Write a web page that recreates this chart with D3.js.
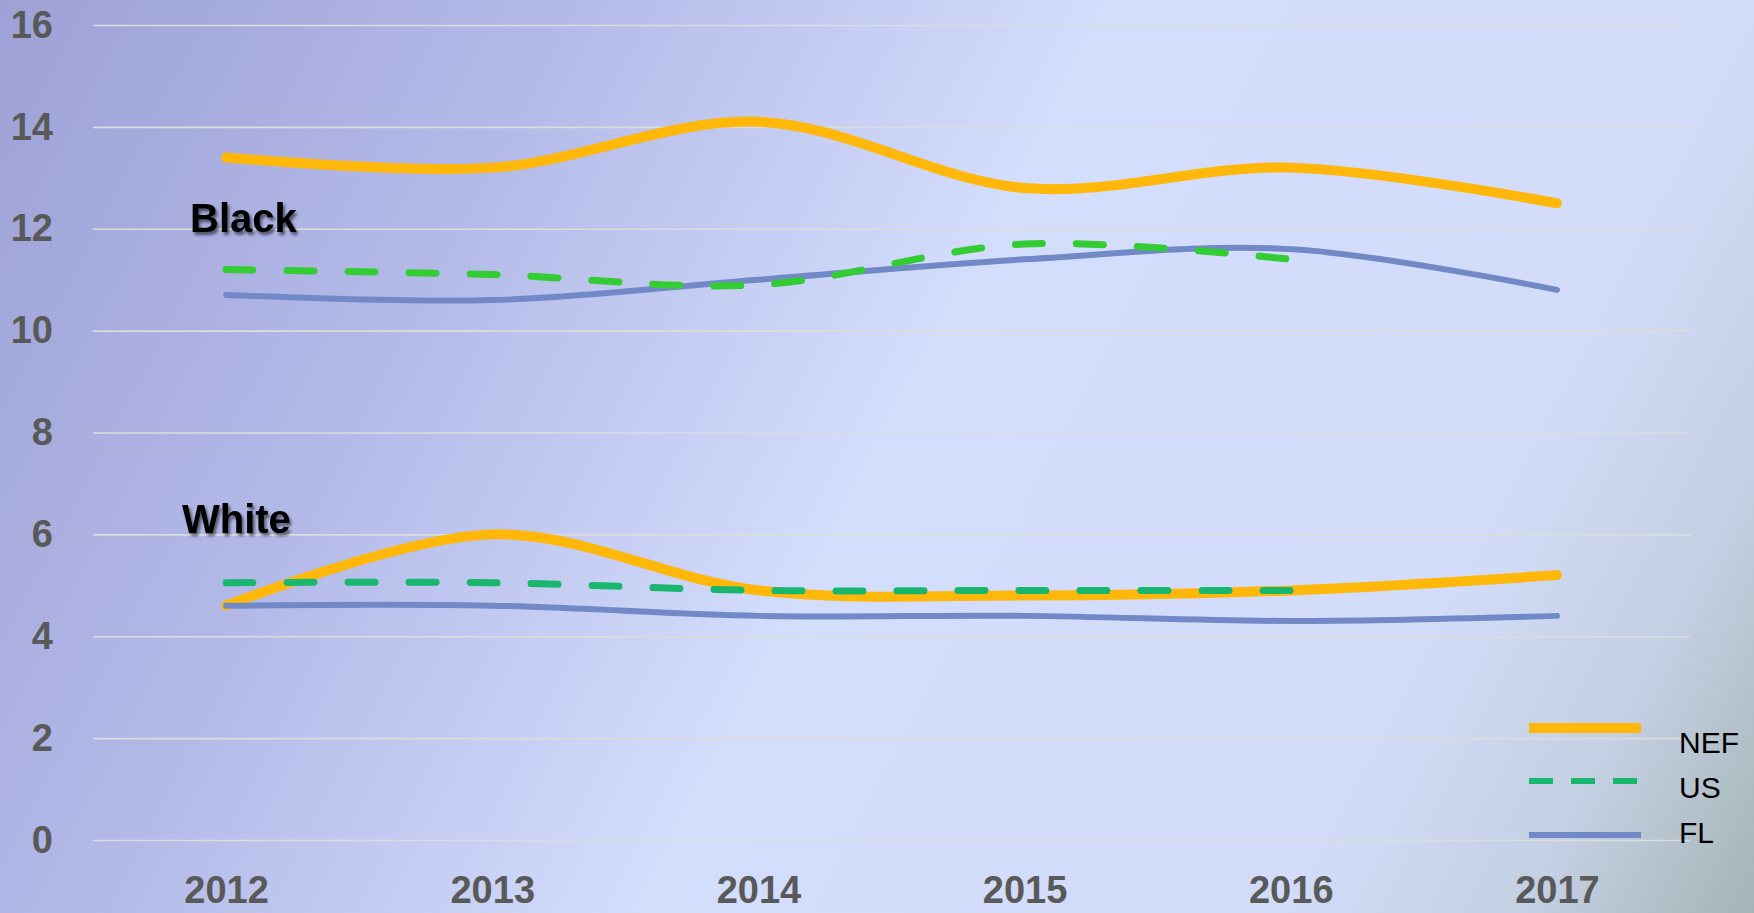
<!DOCTYPE html>
<html>
<head>
<meta charset="utf-8">
<script src="https://cdn.jsdelivr.net/npm/d3@7"></script>
<style>
  html, body { margin: 0; padding: 0; }
  body { width: 1754px; height: 913px; overflow: hidden; }
  svg { display: block; }
</style>
</head>
<body>
<svg id="chart" width="1754" height="913"></svg>
<script>
// ---- data ----
const years = ["2012", "2013", "2014", "2015", "2016", "2017"];
const yTicks = [0, 2, 4, 6, 8, 10, 12, 14, 16];

const blackNEF = [13.4, 13.2, 14.1, 12.8, 13.2, 12.5];
const blackUS  = [11.2, 11.1, 10.9, 11.7, 11.4, null];
const blackFL  = [10.7, 10.6, 11.0, 11.4, 11.6, 10.8];

const whiteNEF = [4.6, 6.0, 4.9, 4.8, 4.9, 5.2];
const whiteUS  = [5.05, 5.05, 4.9, 4.9, 4.9, null];
const whiteFL  = [4.6, 4.6, 4.4, 4.4, 4.3, 4.4];

const groupLabels = ["Black", "White"];
const legendNames = ["NEF", "US", "FL"];

// ---- styles ----
const C_NEF = "#FFB80A";
const C_US_BLACK = "#33CC33";
const C_US_WHITE = "#19B66E";
const C_FL = "#7289C8";

const W = 1754, H = 913;
const svg = d3.select("#chart");
const defs = svg.append("defs");

const grad = defs.append("linearGradient")
  .attr("id", "bg").attr("gradientUnits", "userSpaceOnUse")
  .attr("x1", 0).attr("y1", 0).attr("x2", W).attr("y2", H);
[[0, "#9DA1D6"], [0.25, "#B3B9E7"], [0.5, "#D3DDFC"], [0.78, "#D3DDFA"], [0.9, "#C3CFE2"], [1, "#A5B4B5"]]
  .forEach(([o, c]) => grad.append("stop").attr("offset", o).attr("stop-color", c));

const shadow = defs.append("filter").attr("id", "shadow")
  .attr("x", "-20%").attr("y", "-30%").attr("width", "140%").attr("height", "160%");
shadow.append("feDropShadow").attr("dx", 2).attr("dy", 3).attr("stdDeviation", 1.6)
  .attr("flood-color", "#000").attr("flood-opacity", 0.55);

svg.append("rect").attr("width", W).attr("height", H).attr("fill", "url(#bg)");

const x = d3.scalePoint().domain(years).range([93, 1690]).padding(0.5);
const y = d3.scaleLinear().domain([0, 16]).range([840, 25]);

const FONT = "'Liberation Sans', Arial, sans-serif";

// y axis + gridlines
const yAxis = svg.append("g").attr("transform", "translate(93,0)")
  .call(d3.axisLeft(y).tickValues(yTicks).tickSize(-1597).tickPadding(40).tickFormat(d3.format("d")));
yAxis.select(".domain").remove();
yAxis.selectAll(".tick line").attr("stroke", "#DCDCDC").attr("stroke-width", 1.6);
yAxis.selectAll(".tick text").attr("fill", "#595959").attr("font-size", 38)
  .attr("font-weight", "bold").attr("font-family", FONT);

// x axis
const xAxis = svg.append("g").attr("transform", "translate(0,840)")
  .call(d3.axisBottom(x).tickSize(0).tickPadding(36));
xAxis.select(".domain").remove();
xAxis.selectAll(".tick text").attr("fill", "#595959").attr("font-size", 38)
  .attr("font-weight", "bold").attr("font-family", FONT);

// lines
const line = d3.line()
  .defined(d => d.v != null)
  .x(d => x(d.year)).y(d => y(d.v))
  .curve(d3.curveCatmullRom.alpha(0.5));

function series(values) { return years.map((yr, i) => ({ year: yr, v: values[i] })); }

function drawLine(values, color, width, dash) {
  const p = svg.append("path").datum(series(values))
    .attr("d", line).attr("fill", "none")
    .attr("stroke", color).attr("stroke-width", width)
    .attr("stroke-linecap", "round").attr("stroke-linejoin", "round");
  if (dash) p.attr("stroke-dasharray", dash);
}

drawLine(blackNEF, C_NEF, 10);
drawLine(blackFL, C_FL, 6);
drawLine(blackUS, C_US_BLACK, 7, "27 34");

drawLine(whiteNEF, C_NEF, 10);
drawLine(whiteFL, C_FL, 6);
drawLine(whiteUS, C_US_WHITE, 7, "27 34");

// group labels
const labelX = [190, 182];
const labelY = [232, 533];
groupLabels.forEach((t, i) => {
  svg.append("text").attr("x", labelX[i]).attr("y", labelY[i])
    .attr("font-family", FONT).attr("font-weight", "bold").attr("font-size", 40)
    .attr("fill", "#000").attr("filter", "url(#shadow)").text(t);
});

// legend
const legColors = [C_NEF, C_US_WHITE, C_FL];
const legWidths = [10, 6, 6];
const legDash = [null, "24 18", null];
const legLineY = [728, 781, 835];
const legTextY = [753, 798, 843];
legendNames.forEach((name, i) => {
  const l = svg.append("line").attr("x1", 1529).attr("x2", 1641)
    .attr("y1", legLineY[i]).attr("y2", legLineY[i])
    .attr("stroke", legColors[i]).attr("stroke-width", legWidths[i]);
  if (legDash[i]) l.attr("stroke-dasharray", legDash[i]);
  svg.append("text").attr("x", 1679).attr("y", legTextY[i])
    .attr("font-family", FONT).attr("font-size", 30).attr("fill", "#000").text(name);
});
</script>
</body>
</html>
